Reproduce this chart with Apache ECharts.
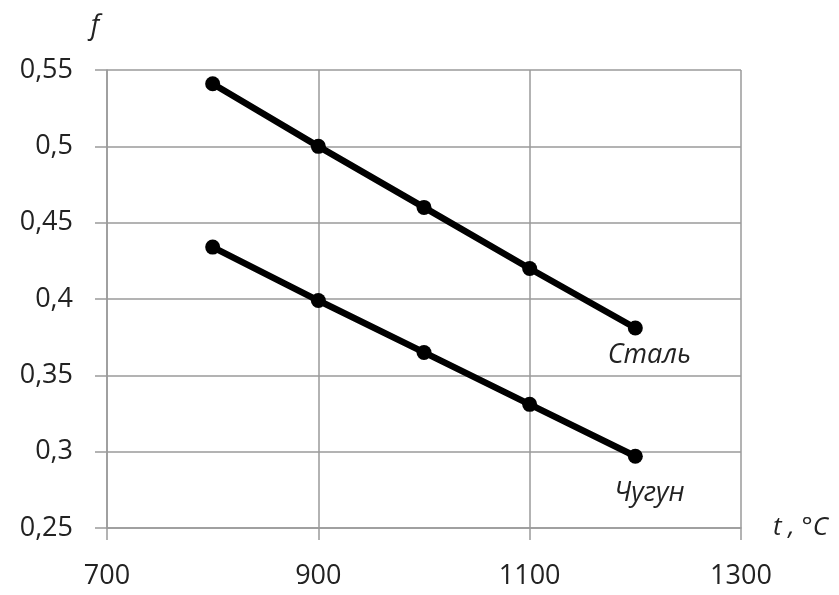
<!DOCTYPE html>
<html>
<head>
<meta charset="utf-8">
<script src="https://cdn.jsdelivr.net/npm/echarts@6/dist/echarts.min.js"></script>
<style>
  html,body{margin:0;padding:0;background:#fff;}
  #chart{width:839px;height:595px;}
</style>
</head>
<body>
<div id="chart"></div>
<script>
// температура, °C
const temps = [800, 900, 1000, 1100, 1200];
// коэффициент трения
const steel = [0.541, 0.500, 0.460, 0.420, 0.381];
const castIron = [0.434, 0.399, 0.365, 0.331, 0.297];
const seriesNames = ['Сталь', 'Чугун'];

const font = 'Open Sans';
const gridColor = '#9a9a9a';

function pairs(vals, labelOffset){
  return vals.map((v,i)=>{
    const d = {value:[temps[i], v]};
    if(i === vals.length-1){
      d.label = {
        show:true,
        formatter:'{a}',
        position:'bottom',
        offset:labelOffset,
        fontFamily:font,
        fontStyle:'italic',
        fontSize:27,
        color:'#222'
      };
    }
    return d;
  });
}

const chart = echarts.init(document.getElementById('chart'));
chart.setOption({
  animation:false,
  backgroundColor:'#fff',
  grid:{left:107, right:98, top:70, bottom:67},
  xAxis:{
    type:'value',
    min:700, max:1300, interval:200,
    name:'t , °C',
    nameLocation:'end',
    nameGap:32,
    nameTextStyle:{fontFamily:font, fontSize:26, color:'#222', fontStyle:'italic', verticalAlign:'middle'},
    axisLine:{show:true, lineStyle:{color:gridColor, width:1.5}},
    axisTick:{show:true, inside:false, length:12, lineStyle:{color:gridColor, width:1.5}},
    axisLabel:{fontFamily:font, fontSize:27, color:'#222', margin:35, formatter:v=>String(v)},
    splitLine:{show:true, lineStyle:{color:gridColor, width:1.5}}
  },
  yAxis:{
    type:'value',
    min:0.25, max:0.55, interval:0.05,
    name:'f',
    nameLocation:'end',
    nameGap:30,
    nameTextStyle:{fontFamily:font, fontSize:27, color:'#222', fontStyle:'italic', align:'center', padding:[0,0,0,-24]},
    axisLine:{show:true, lineStyle:{color:gridColor, width:1.5}},
    axisTick:{show:true, length:12, lineStyle:{color:gridColor, width:1.5}},
    axisLabel:{fontFamily:font, fontSize:27, color:'#222', margin:34,
      formatter:v=>String(Math.round(v*100)/100).replace('.', ',')},
    splitLine:{show:true, lineStyle:{color:gridColor, width:1.5}}
  },
  series:[
    {
      name:seriesNames[0], type:'line',
      data:pairs(steel, [14, 1]),
      symbol:'circle', symbolSize:15,
      lineStyle:{color:'#000', width:6.5},
      itemStyle:{color:'#000'}
    },
    {
      name:seriesNames[1], type:'line',
      data:pairs(castIron, [14, 11]),
      symbol:'circle', symbolSize:15,
      lineStyle:{color:'#000', width:6.5},
      itemStyle:{color:'#000'}
    }
  ]
});
</script>
</body>
</html>
